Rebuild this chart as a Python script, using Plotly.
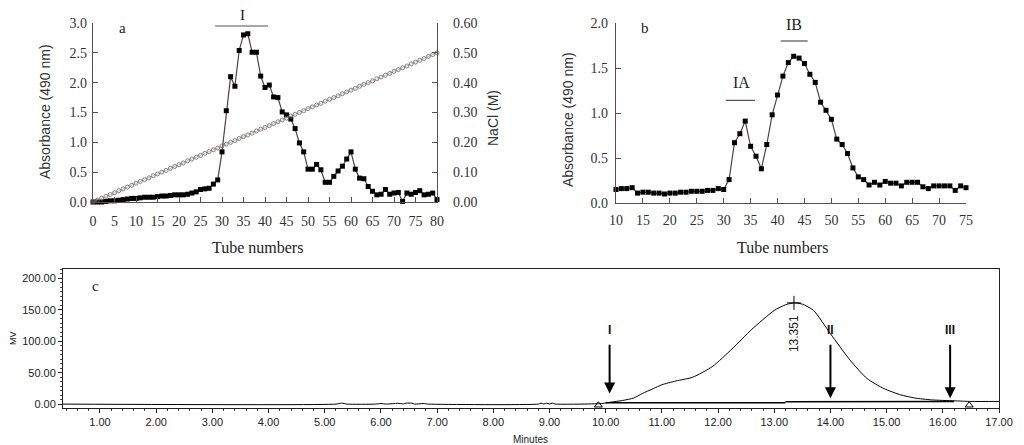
import plotly.graph_objects as go

# ---- panel a: DEAE column, absorbance + NaCl gradient ----
tubes_a = list(range(0, 81))
absorb_a = [0.00, 0.00, 0.00, 0.01, 0.02, 0.02, 0.03, 0.04, 0.05, 0.06,
            0.06, 0.07, 0.08, 0.08, 0.08, 0.09, 0.10, 0.10, 0.11, 0.12,
            0.12, 0.12, 0.13, 0.15, 0.17, 0.21, 0.22, 0.23, 0.30, 0.37,
            0.84, 1.53, 2.10, 1.94, 2.54, 2.80, 2.82, 2.51, 2.51, 2.11,
            1.92, 1.96, 1.76, 1.75, 1.51, 1.46, 1.39, 1.23, 0.99, 0.84,
            0.55, 0.55, 0.63, 0.54, 0.33, 0.33, 0.43, 0.52, 0.60, 0.72,
            0.84, 0.55, 0.40, 0.39, 0.26, 0.18, 0.12, 0.13, 0.21, 0.13,
            0.15, 0.16, 0.01, 0.15, 0.13, 0.16, 0.19, 0.12, 0.13, 0.15,
            0.04]
nacl_a = [0.000, 0.006, 0.013, 0.019, 0.025, 0.031, 0.038, 0.044, 0.050, 0.056,
          0.063, 0.069, 0.075, 0.081, 0.088, 0.094, 0.100, 0.106, 0.113, 0.119,
          0.125, 0.131, 0.138, 0.144, 0.150, 0.156, 0.163, 0.169, 0.175, 0.181,
          0.188, 0.194, 0.200, 0.206, 0.213, 0.219, 0.225, 0.231, 0.238, 0.244,
          0.250, 0.256, 0.263, 0.269, 0.275, 0.281, 0.288, 0.294, 0.300, 0.306,
          0.313, 0.319, 0.325, 0.331, 0.338, 0.344, 0.350, 0.356, 0.363, 0.369,
          0.375, 0.381, 0.388, 0.394, 0.400, 0.406, 0.413, 0.419, 0.425, 0.431,
          0.438, 0.444, 0.450, 0.456, 0.463, 0.469, 0.475, 0.481, 0.488, 0.494,
          0.500]

# ---- panel b: Sephadex column ----
tubes_b = list(range(10, 76))
absorb_b = [0.15, 0.16, 0.16, 0.17, 0.11, 0.12, 0.12, 0.11, 0.11, 0.10,
            0.11, 0.11, 0.12, 0.12, 0.13, 0.13, 0.13, 0.14, 0.14, 0.16,
            0.15, 0.26, 0.67, 0.77, 0.91, 0.63, 0.52, 0.38, 0.65, 0.98,
            1.20, 1.41, 1.56, 1.63, 1.61, 1.55, 1.43, 1.34, 1.12, 1.03,
            0.93, 0.71, 0.65, 0.55, 0.39, 0.29, 0.26, 0.20, 0.23, 0.20,
            0.24, 0.22, 0.22, 0.19, 0.23, 0.23, 0.23, 0.18, 0.16, 0.19,
            0.19, 0.19, 0.19, 0.14, 0.19, 0.17]

# ---- panel c: HPGPC chromatogram ----
minutes_c = [0.34, 5.2, 5.3, 5.4, 5.9, 6.0, 6.1, 6.3, 6.4, 6.45, 6.55, 6.6,
             6.75, 6.85, 8.8, 8.85, 8.9, 8.95, 9.0, 9.05, 9.1, 9.9, 10.0,
             10.1, 10.3, 10.5, 10.65, 10.85, 11.0, 11.25, 11.55, 11.9, 12.25,
             12.6, 13.0, 13.2, 13.35, 13.5, 13.7, 14.0, 14.35, 14.65, 14.95,
             15.25, 15.5, 15.8, 16.2, 16.5, 17.0]
mv_c = [0.3, 0.3, 1.8, 0.3, 0.3, 1.2, 0.3, 1.6, 0.6, 1.8, 1.8, 0.3,
        1.2, 0.3, 0.3, 1.8, 0.4, 1.8, 0.4, 1.8, 0.4, 1.0, 2.0,
        3.5, 6.0, 10.0, 17.0, 25.0, 31.0, 37.0, 43.0, 60.0, 88.0,
        119.0, 149.0, 158.0, 161.0, 159.0, 149.0, 112.0, 70.0, 41.0, 25.0,
        15.0, 10.0, 7.0, 5.5, 4.5, 4.5]
base_x = [10.0, 13.2, None, 13.2, 16.2]
base_y = [2.6, 2.6, None, 4.2, 4.5]
peak_time = 13.351
peak_mv = 161
fraction_labels = ["I", "II", "III"]
fraction_times = [10.07, 14.0, 16.13]
fraction_heads = [17, 9.5, 9.5]
integ_marks_x = [9.87, 16.47]

W, H = 1024, 445
def px(x):
    return x / W
def py(y):
    return 1 - y / H

AX = "#5e4b4b"
LN = "#4d4444"
SERIF = "Liberation Serif, Times New Roman, serif"
SANS = "Liberation Sans, Arial, sans-serif"

fig = go.Figure()

fig.add_trace(go.Scatter(x=tubes_a, y=nacl_a, xaxis="x", yaxis="y2", mode="lines+markers",
                         line=dict(color="#a59a9a", width=0.6),
                         marker=dict(symbol="circle-open", size=4, color="#6e6262", line=dict(width=0.8)),
                         cliponaxis=False))
fig.add_trace(go.Scatter(x=tubes_a, y=absorb_a, xaxis="x", yaxis="y", mode="lines+markers",
                         line=dict(color=LN, width=1.2),
                         marker=dict(symbol="square", size=5, color="black"),
                         cliponaxis=False))
fig.add_trace(go.Scatter(x=tubes_b, y=absorb_b, xaxis="x2", yaxis="y3", mode="lines+markers",
                         line=dict(color=LN, width=1.2),
                         marker=dict(symbol="square", size=5, color="black"),
                         cliponaxis=False))
fig.add_trace(go.Scatter(x=minutes_c, y=mv_c, xaxis="x3", yaxis="y4", mode="lines",
                         line=dict(color="black", width=1, shape="spline", smoothing=0.6)))
fig.add_trace(go.Scatter(x=base_x, y=base_y, xaxis="x3", yaxis="y4", mode="lines",
                         line=dict(color="black", width=1.5)))
fig.add_trace(go.Scatter(x=[peak_time], y=[peak_mv], xaxis="x3", yaxis="y4", mode="markers",
                         marker=dict(symbol="cross-thin", size=10, line=dict(color="black", width=1))))
fig.add_trace(go.Scatter(x=integ_marks_x, y=[-1.5, -1.5], xaxis="x3", yaxis="y4", mode="markers",
                         marker=dict(symbol="triangle-up-open", size=7, color="black", line=dict(width=1)),
                         cliponaxis=False))

top_axis = dict(showline=True, linecolor=AX, linewidth=1.2, ticks="inside", tickcolor=AX,
                ticklen=5, showgrid=False, zeroline=False, automargin=False,
                tickfont=dict(family=SERIF, size=14, color="#333"))

fig.update_layout(
    autosize=True,
    margin=dict(l=0, r=0, t=0, b=0, pad=0),
    paper_bgcolor="white", plot_bgcolor="white",
    showlegend=False,
    xaxis=dict(top_axis, domain=[px(93), px(437)], range=[0, 80], dtick=5, tick0=0,
               anchor="y", ticklabelstandoff=6),
    yaxis=dict(top_axis, domain=[py(202), py(23)], range=[0, 3.0], dtick=0.5,
               tickformat=".1f", anchor="x", ticklabelstandoff=2),
    yaxis2=dict(top_axis, overlaying="y", side="right", anchor="x", range=[0, 0.6],
                dtick=0.1, tickformat=".2f", ticklabelstandoff=12),
    xaxis2=dict(top_axis, domain=[px(616), px(966)], range=[10, 75], dtick=5, tick0=10,
                anchor="y3", ticklabelstandoff=4),
    yaxis3=dict(top_axis, domain=[py(203), py(23)], range=[0, 2.0], dtick=0.5,
                tickformat=".1f", anchor="x2", ticklabelstandoff=4),
    xaxis3=dict(domain=[px(63), px(999)], range=[0.342, 17.0], dtick=1, tick0=0,
                tickformat=".2f", anchor="y4", showline=True, mirror=True, linecolor="#222",
                linewidth=1, ticks="outside", ticklen=4, tickcolor="#222", showgrid=False,
                zeroline=False, automargin=False, tickfont=dict(family=SANS, size=11, color="#222"),
                minor=dict(dtick=0.2, ticks="outside", ticklen=2, tickcolor="#444")),
    yaxis4=dict(domain=[py(408), py(269)], range=[-5.9, 214.8], dtick=50, tick0=0,
                tickformat=".2f", anchor="x3", showline=True, mirror=True, linecolor="#222",
                linewidth=1, ticks="outside", ticklen=4, tickcolor="#222", showgrid=False,
                zeroline=False, automargin=False,
                tickfont=dict(family=SANS, size=11, color="#222"),
                minor=dict(dtick=50 / 7, ticks="outside", ticklen=2, tickcolor="#444")),
)

ann = []
# axis titles and panel letters
ann.append(dict(x=px(45), y=py(112), text="Absorbance (490 nm)", textangle=-90,
                font=dict(family=SANS, size=14, color="#333")))
ann.append(dict(x=px(493), y=py(118), text="NaCl (M)", textangle=-90,
                font=dict(family=SANS, size=14, color="#333")))
ann.append(dict(x=px(257), y=py(248), text="Tube numbers", font=dict(family=SERIF, size=16, color="#222")))
ann.append(dict(x=px(568), y=py(120), text="Absorbance (490 nm)", textangle=-90,
                font=dict(family=SANS, size=14, color="#333")))
ann.append(dict(x=px(782), y=py(247), text="Tube numbers", font=dict(family=SERIF, size=16, color="#222")))
ann.append(dict(x=px(122), y=py(28), text="a", font=dict(family=SERIF, size=15, color="#222")))
ann.append(dict(x=px(645), y=py(28), text="b", font=dict(family=SERIF, size=15, color="#222")))
ann.append(dict(x=px(95), y=py(286), text="c", font=dict(family=SERIF, size=15, color="#222")))
ann.append(dict(x=px(242), y=py(15), text="I", font=dict(family=SERIF, size=15, color="#222")))
ann.append(dict(x=33.3, y=1.34, xref="x2", yref="y3", text="IA", font=dict(family=SERIF, size=16, color="#222")))
ann.append(dict(x=43.1, y=1.98, xref="x2", yref="y3", text="IB", font=dict(family=SERIF, size=16, color="#222")))
ann.append(dict(x=px(13), y=py(338), text="MV", textangle=-90, font=dict(family=SANS, size=9, color="#222")))
ann.append(dict(x=px(530), y=py(439), text="Minutes", font=dict(family=SANS, size=10, color="#222")))
ann.append(dict(x=peak_time, y=113, xref="x3", yref="y4", text="13.351", textangle=-90,
                font=dict(family=SANS, size=12, color="#222")))
for lab, t, h in zip(fraction_labels, fraction_times, fraction_heads):
    ann.append(dict(x=t, y=118, xref="x3", yref="y4", text="<b>%s</b>" % lab,
                    font=dict(family=SANS, size=12, color="#111")))
    ann.append(dict(x=t, y=h, xref="x3", yref="y4", ax=t, ay=97, axref="x3", ayref="y4",
                    text="", showarrow=True, arrowhead=2, arrowsize=1.1, arrowwidth=2,
                    arrowcolor="black"))
for a in ann:
    a.setdefault("xref", "paper")
    a.setdefault("yref", "paper")
    a.setdefault("showarrow", False)
    a.setdefault("xanchor", "center")
    a.setdefault("yanchor", "middle")
fig.update_layout(annotations=ann)

# fraction bars
fig.add_shape(type="line", xref="x", yref="y", x0=28.4, x1=40.7, y0=2.95, y1=2.95,
              line=dict(color=AX, width=1.2))
fig.add_shape(type="line", xref="x2", yref="y3", x0=30.4, x1=35.8, y0=1.14, y1=1.14,
              line=dict(color=AX, width=1.2))
fig.add_shape(type="line", xref="x2", yref="y3", x0=40.6, x1=45.6, y0=1.80, y1=1.80,
              line=dict(color=AX, width=1.2))

# let the figure fill the whole window, no page margin
fit_page = (
    "document.documentElement.style.height='100%';"
    "document.body.style.height='100%';"
    "document.body.style.margin='0';"
    "document.body.style.overflow='hidden';"
    "var gd=document.getElementById('{plot_id}');"
    "gd.parentElement.style.height='100%';"
    "Plotly.Plots.resize(gd);"
)
fig.write_html("out.html", config={"displayModeBar": False},
               default_width="100%", default_height="100%", post_script=fit_page)
